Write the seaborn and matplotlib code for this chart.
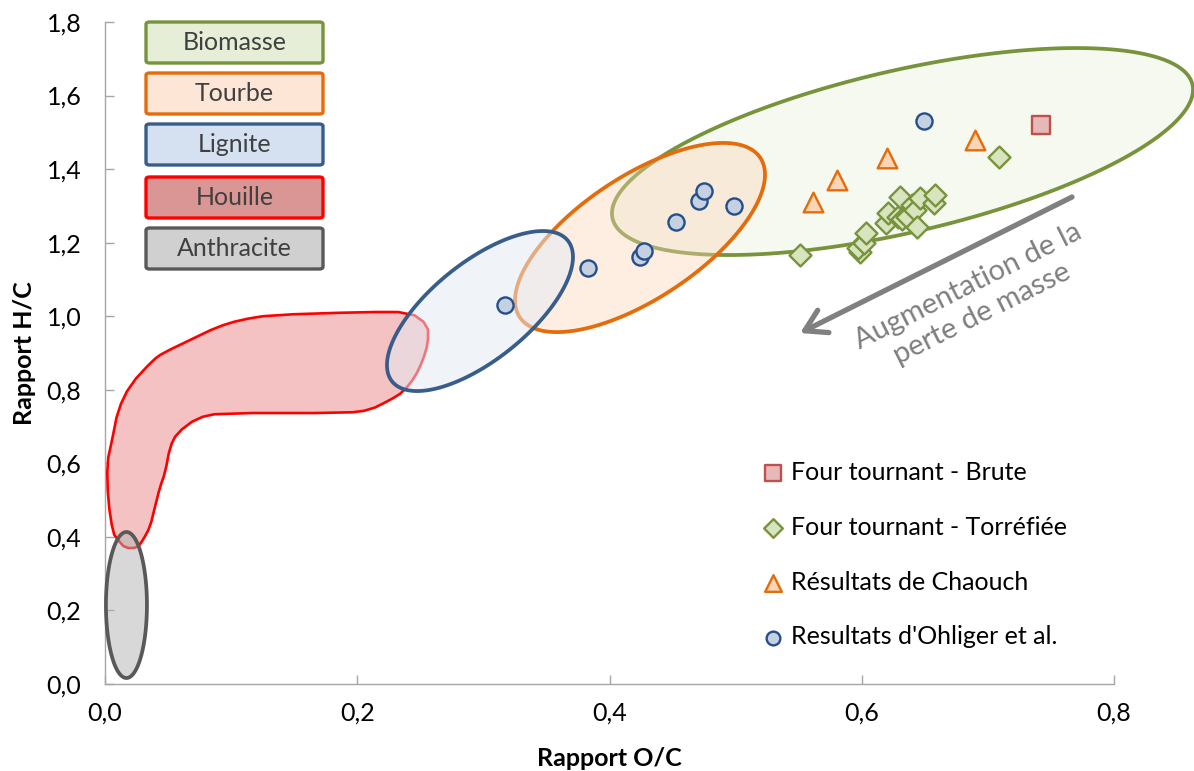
import numpy as np
import pandas as pd
import matplotlib
matplotlib.use("Agg")
import matplotlib.pyplot as plt
import seaborn as sns
from matplotlib.patches import FancyBboxPatch
from matplotlib.ticker import FuncFormatter, MultipleLocator

# ---- measured points (O/C, H/C) ----
brute_oc = [0.742]
brute_hc = [1.520]

torr_oc = [0.551, 0.599, 0.597, 0.602, 0.603, 0.619, 0.621, 0.629, 0.630,
           0.632, 0.636, 0.640, 0.642, 0.644, 0.646, 0.657, 0.658, 0.709]
torr_hc = [1.167, 1.175, 1.186, 1.199, 1.226, 1.254, 1.281, 1.270, 1.324,
           1.265, 1.270, 1.303, 1.289, 1.243, 1.322, 1.308, 1.330, 1.433]

chaouch_oc = [0.561, 0.580, 0.620, 0.690]
chaouch_hc = [1.311, 1.371, 1.430, 1.480]

ohliger_oc = [0.317, 0.383, 0.424, 0.427, 0.453, 0.471, 0.475, 0.499, 0.649]
ohliger_hc = [1.031, 1.131, 1.161, 1.178, 1.256, 1.314, 1.341, 1.300, 1.531]

series_labels = ["Four tournant - Brute", "Four tournant - Torréfiée",
                 "Résultats de Chaouch", "Resultats d'Ohliger et al."]

# ---- fuel domains (van Krevelen) ----
# ellipses: centre (O/C, H/C), semi-axes in screen pixels, tilt in degrees
region_names = ["Biomasse", "Tourbe", "Lignite", "Houille", "Anthracite"]
ell_centre_oc = {"Biomasse": 0.6323, "Tourbe": 0.4242, "Lignite": 0.2973, "Anthracite": 0.0170}
ell_centre_hc = {"Biomasse": 1.4478, "Tourbe": 1.2140, "Lignite": 1.0141, "Anthracite": 0.2148}
ell_semi_a = {"Biomasse": 297.6, "Tourbe": 144.3, "Lignite": 112.6, "Anthracite": 73.0}
ell_semi_b = {"Biomasse": 81.0, "Tourbe": 61.2, "Lignite": 48.7, "Anthracite": 20.5}
ell_tilt = {"Biomasse": 13.0, "Tourbe": 33.5, "Lignite": 38.7, "Anthracite": 90.0}

# coal band outline
houille_oc = [0.1308, 0.2046, 0.2418, 0.2561, 0.2561, 0.2521, 0.2458, 0.2363, 0.2260,
              0.2101, 0.1919, 0.0912, 0.0729, 0.0571, 0.0515, 0.0476, 0.0436, 0.0396,
              0.0357, 0.0301, 0.0254, 0.0159, 0.0103, 0.0063, 0.0024, 0.0016, 0.0056,
              0.0103, 0.0198, 0.0381, 0.0460, 0.0674, 0.0888, 0.1070]
houille_hc = [1.0033, 1.0114, 1.0114, 0.9761, 0.9271, 0.8809, 0.8347, 0.7939, 0.7722,
              0.7450, 0.7368, 0.7368, 0.7232, 0.6824, 0.6444, 0.5737, 0.5356, 0.4812,
              0.4269, 0.3915, 0.3698, 0.3698, 0.3915, 0.4106, 0.5003, 0.6009, 0.6634,
              0.7450, 0.8129, 0.8809, 0.9000, 0.9353, 0.9706, 0.9897]

edge_col = {"Biomasse": "#77933C", "Tourbe": "#E46C0A", "Lignite": "#385D8A",
            "Houille": "#FF0000", "Anthracite": "#595959"}
fill_col = {"Biomasse": ("#D7E4BD", 0.22), "Tourbe": ("#FCD5B5", 0.40),
            "Lignite": ("#E3EBF5", 0.50), "Houille": ("#F4C2C2", 1.0),
            "Anthracite": ("#B3B3B3", 0.50)}
box_fill = {"Biomasse": "#E6EED8", "Tourbe": "#FDE6D5", "Lignite": "#D5E1F1",
            "Houille": "#DA9694", "Anthracite": "#D0D0D0"}

W, H = 1194, 771
FS = 18
sns.set_theme(style="white")
plt.rcParams["font.family"] = ["Lato", "DejaVu Sans"]

fig = plt.figure(figsize=(W / 100, H / 100), dpi=100)
ax = fig.add_axes([105 / W, 1 - 684 / H, 1009 / W, 662 / H])
ax.set_xlim(0, 0.8)
ax.set_ylim(0, 1.8)

p0, p1 = ax.transData.transform([[0, 0], [1, 1]])
px_per_x, px_per_y = p1[0] - p0[0], p1[1] - p0[1]


def ellipse_outline(cx, cy, a, b, tilt):
    t = np.linspace(0, 2 * np.pi, 240)
    th = np.radians(tilt)
    dx = a * np.cos(t) * np.cos(th) - b * np.sin(t) * np.sin(th)
    dy = a * np.cos(t) * np.sin(th) + b * np.sin(t) * np.cos(th)
    return cx + dx / px_per_x, cy + dy / px_per_y


def smooth_closed(xs, ys, n=1):
    # Chaikin corner cutting on the closed outline
    pts = np.column_stack([xs, ys])
    for _ in range(n):
        q = 0.75 * pts + 0.25 * np.roll(pts, -1, axis=0)
        r = 0.25 * pts + 0.75 * np.roll(pts, -1, axis=0)
        pts = np.empty((2 * len(q), 2))
        pts[0::2], pts[1::2] = q, r
    return pts[:, 0], pts[:, 1]


def add_region(xs, ys, name, lw, z):
    fc, al = fill_col[name]
    rgba = matplotlib.colors.to_rgba(fc, al)
    poly = ax.fill(xs, ys, facecolor=rgba, edgecolor=edge_col[name], lw=lw, zorder=z)[0]
    poly.set_clip_on(False)
    poly.set_joinstyle("round")


for name, z in [("Biomasse", 1), ("Tourbe", 2)]:
    xs, ys = ellipse_outline(ell_centre_oc[name], ell_centre_hc[name],
                             ell_semi_a[name], ell_semi_b[name], ell_tilt[name])
    add_region(xs, ys, name, 2.7, z)

hx, hy = smooth_closed(houille_oc, houille_hc, n=1)
add_region(hx, hy, "Houille", 1.9, 3)

for name, z in [("Lignite", 4), ("Anthracite", 5)]:
    xs, ys = ellipse_outline(ell_centre_oc[name], ell_centre_hc[name],
                             ell_semi_a[name], ell_semi_b[name], ell_tilt[name])
    add_region(xs, ys, name, 2.7, z)

# ---- measured series ----
df = pd.concat([
    pd.DataFrame({"oc": brute_oc, "hc": brute_hc, "serie": series_labels[0]}),
    pd.DataFrame({"oc": torr_oc, "hc": torr_hc, "serie": series_labels[1]}),
    pd.DataFrame({"oc": chaouch_oc, "hc": chaouch_hc, "serie": series_labels[2]}),
    pd.DataFrame({"oc": ohliger_oc, "hc": ohliger_hc, "serie": series_labels[3]}),
])

marker_style = {
    series_labels[0]: dict(marker="s", s=165, color="#E6B9B8", edgecolor="#C0504D"),
    series_labels[1]: dict(marker="D", s=125, color="#D7E4BD", edgecolor="#77933C"),
    series_labels[2]: dict(marker="^", s=200, color="#FBD5B5", edgecolor="#E46C0A"),
    series_labels[3]: dict(marker="o", s=135, color="#C5D1E0", edgecolor="#254E8C"),
}
for lab in series_labels:
    sub = df[df["serie"] == lab]
    sns.scatterplot(data=sub, x="oc", y="hc", label=lab, linewidth=1.7,
                    zorder=10, ax=ax, **marker_style[lab])

# ---- axes styling ----
for side in ["top", "right"]:
    ax.spines[side].set_visible(False)
for side in ["left", "bottom"]:
    ax.spines[side].set_color("#A6A6A6")
    ax.spines[side].set_linewidth(1.0)
ax.xaxis.set_major_locator(MultipleLocator(0.2))
ax.yaxis.set_major_locator(MultipleLocator(0.2))
fmt = FuncFormatter(lambda v, _: f"{v:.1f}".replace(".", ","))
ax.xaxis.set_major_formatter(fmt)
ax.yaxis.set_major_formatter(fmt)
ax.tick_params(axis="both", direction="in", length=6.5, width=1.0, color="#A6A6A6",
               labelsize=FS, labelcolor="black", bottom=True, left=True)
ax.tick_params(axis="y", pad=17)
ax.tick_params(axis="x", pad=13)
ax.set_xlabel("Rapport O/C", fontsize=FS, fontweight="bold", color="black", va="center")
ax.set_ylabel("Rapport H/C", fontsize=FS, fontweight="bold", color="black", va="center")
ax.xaxis.set_label_coords(0.5, -(758 - 684) / 662)
ax.yaxis.set_label_coords((24 - 105) / 1009, 0.5)
ax.grid(False)

# ---- legend of measured series ----
leg = ax.legend(loc="upper left", bbox_to_anchor=(764 / W, 1 - 461 / H),
                bbox_transform=fig.transFigure, frameon=False, fontsize=FS,
                handlelength=0.72, handletextpad=0.36, labelspacing=1.27,
                borderpad=0, borderaxespad=0, markerscale=0.85)
for t in leg.get_texts():
    t.set_color("black")

# ---- domain key boxes ----
box_tops = [22, 73, 124, 177, 228]
for name, top in zip(region_names, box_tops):
    x0, x1, h = 146, 323, 41
    patch = FancyBboxPatch((x0 / W, 1 - (top + h) / H), (x1 - x0) / W, h / H,
                           boxstyle="round,pad=0,rounding_size=0.003",
                           transform=fig.transFigure, facecolor=box_fill[name],
                           edgecolor=edge_col[name], lw=2.4, zorder=20)
    fig.add_artist(patch)
    fig.text((x0 + x1) / 2 / W, 1 - (top + h / 2) / H, name, ha="center", va="center",
             fontsize=FS, color="#404040", zorder=21)

# ---- mass-loss arrow ----
ax.annotate("", xy=(0.5511, 0.9543), xytext=(0.7667, 1.3241),
            arrowprops=dict(arrowstyle="->,head_length=0.75,head_width=0.45",
                            lw=3.8, color="#808080", shrinkA=0, shrinkB=0,
                            mutation_scale=20),
            annotation_clip=False, zorder=12)
ax.text(0.6898, 1.044, "Augmentation de la\nperte de masse", rotation=26.6,
        rotation_mode="anchor", ha="center", va="center", multialignment="center",
        fontsize=21, color="#7F7F7F", linespacing=1.2, zorder=12)

fig.savefig("out.png", dpi=100)
